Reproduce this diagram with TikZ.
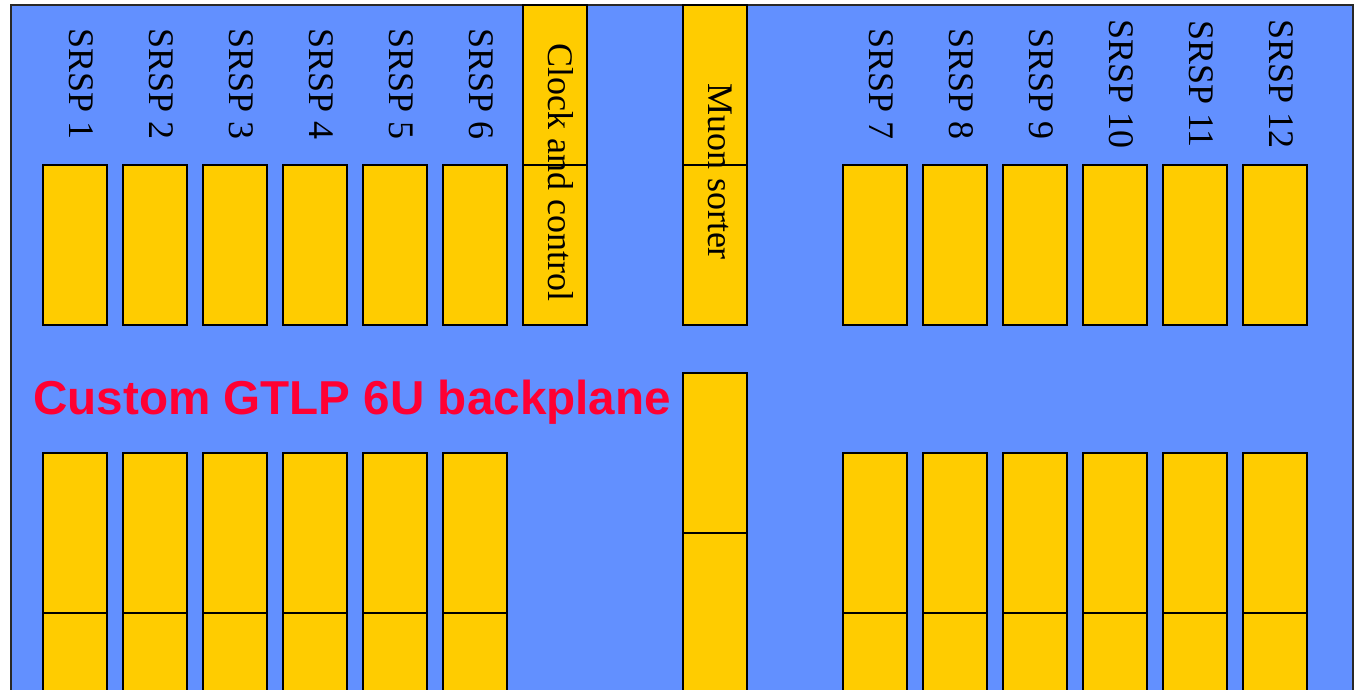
\documentclass[tikz,border=0pt]{standalone}
\usepackage{fontspec}
\setmainfont{Liberation Serif}
\newfontfamily\titlesans{Liberation Sans}
\definecolor{plane}{RGB}{98,144,255}
\definecolor{card}{RGB}{255,204,0}
\definecolor{titlered}{RGB}{255,0,51}
\definecolor{rim}{RGB}{40,40,40}
\begin{document}
\begin{tikzpicture}[x=0.5pt,y=-0.5pt,
  slot/.style={draw=black, fill=card, line width=0.75pt, inner sep=0pt,
    outer sep=0pt, minimum width=32pt, minimum height=80pt, anchor=north west},
  cardlabel/.style={rotate=-90, anchor=base, inner sep=0pt,
    font=\fontsize{18}{21}\selectfont},
  titletext/.style={anchor=base west, inner sep=0pt, text=titlered,
    font=\titlesans\bfseries\fontsize{23.8}{28}\selectfont}]
\useasboundingbox (0,0) rectangle (1357,690);
\begin{scope}
\clip (0,0) rectangle (1357,690);
% backplane
\draw[fill=plane, draw=rim, line width=1pt] (11,5) rectangle (1353,740);
% SRSP card slots, left and right groups
\foreach \i/\x in {1/43,2/123,3/203,4/283,5/363,6/443,
                   7/843,8/923,9/1003,10/1083,11/1163,12/1243} {
  \node[slot] (top\i) at (\x,165) {};
  \node[slot] (mid\i) at (\x,453) {};
  \node[slot] (low\i) at (\x,613) {};
  \node[cardlabel] (lab\i) at (\x+26,84) {SRSP \i};
}
% clock and control slot
\node[slot] (clkA) at (523,5) {};
\node[slot] (clkB) at (523,165) {};
\node[cardlabel] (clklab) at (548,172.5) {Clock and control};
% muon sorter slot
\node[slot] (muA) at (683,5) {};
\node[slot] (muB) at (683,165) {};
\node[slot] (muC) at (683,373) {};
\node[slot] (muD) at (683,533) {};
\node[cardlabel] (mulab) at (708,171.5) {Muon sorter};
% title
\node[titletext] (title) at (33,415) {Custom GTLP 6U backplane};
\end{scope}
\end{tikzpicture}
\end{document}
